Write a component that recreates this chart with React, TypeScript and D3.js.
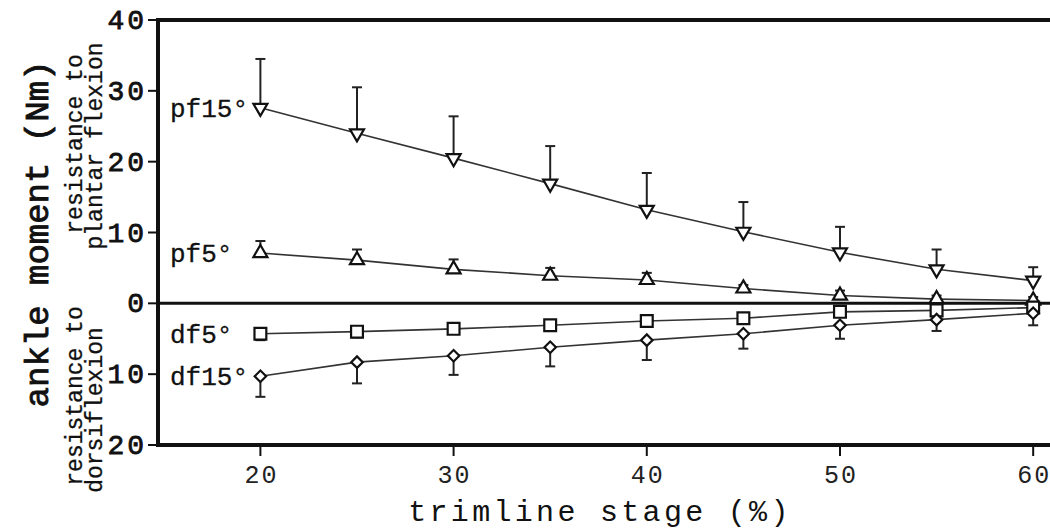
import * as d3 from 'd3'

const stages = [20, 25, 30, 35, 40, 45, 50, 55, 60]
const pf15 = [27.6, 24.0, 20.5, 16.9, 13.2, 10.1, 7.2, 4.8, 3.2]
const pf15Err = [34.5, 30.5, 26.4, 22.2, 18.4, 14.3, 10.8, 7.6, 5.1]
const pf5 = [7.1, 6.1, 4.8, 3.9, 3.3, 2.1, 1.1, 0.6, 0.4]
const pf5Err = [8.8, 7.6, 6.2, 5.0, 4.3, 2.6, 1.8, 1.1, 0.9]
const df5 = [-4.3, -4.0, -3.6, -3.1, -2.5, -2.1, -1.2, -1.0, -0.6]
const df5Err = [-5.2, -4.8, -4.3, -3.5, -2.9, -2.5, -1.6, -1.4, -1.0]
const df15 = [-10.3, -8.3, -7.4, -6.2, -5.2, -4.3, -3.1, -2.3, -1.4]
const df15Err = [-13.2, -11.3, -10.1, -8.9, -8.0, -6.4, -5.0, -3.9, -3.1]

const xTicks = [20, 30, 40, 50, 60]
const yTicks = [40, 30, 20, 10, 0, -10, -20]

const series = [
  { label: 'pf15°', values: pf15, err: pf15Err, symbol: d3.symbolTriangle, size: 85, rotate: 180 },
  { label: 'pf5°', values: pf5, err: pf5Err, symbol: d3.symbolTriangle, size: 85, rotate: 0 },
  { label: 'df5°', values: df5, err: df5Err, symbol: d3.symbolSquare, size: 140, rotate: 0 },
  { label: 'df15°', values: df15, err: df15Err, symbol: d3.symbolSquare, size: 66, rotate: 45 },
]

const W = 1050
const H = 532
const mono = '"Liberation Mono", "Courier New", monospace'

export default function App() {
  const x = d3.scaleLinear().domain([14.7, 61]).range([158, 1052.5])
  const y = d3.scaleLinear().domain([-20, 40]).range([445, 20])
  const line = d3.line<number>().x((_, i) => x(stages[i])).y((d) => y(d))

  return (
    <svg
      width={W}
      height={H}
      style={{ position: 'absolute', left: 0, top: 0, background: '#fff' }}
    >
      {/* axis titles */}
      <text
        transform={`translate(48,234) rotate(-90)`}
        textAnchor="middle"
        fontFamily={mono}
        fontSize={34}
        fill="#111"
        stroke="#111"
        strokeWidth={0.9}
      >
        ankle moment (Nm)
      </text>
      <g fontFamily={mono} fontSize={23} fill="#111" textAnchor="middle" stroke="#111" strokeWidth={0.3}>
        <text transform="translate(82,144) rotate(-90)">resistance to</text>
        <text transform="translate(102,146) rotate(-90)">plantar flexion</text>
        <text transform="translate(82,396) rotate(-90)">resistance to</text>
        <text transform="translate(102,410) rotate(-90)">dorsiflexion</text>
      </g>
      <text
        x={600}
        y={521}
        textAnchor="middle"
        fontFamily={mono}
        fontSize={30}
        letterSpacing={3.3}
        fill="#111"
      >
        trimline stage (%)
      </text>

      {/* y ticks */}
      {yTicks.map((t) => (
        <g key={t}>
          <line x1={148} x2={158} y1={y(t)} y2={y(t)} stroke="#111" strokeWidth={2} />
          <text
            x={147}
            y={y(t) + 9}
            textAnchor="end"
            fontFamily={mono}
            fontSize={28}
            letterSpacing={3}
            fill="#111"
            stroke="#111"
            strokeWidth={0.8}
          >
            {Math.abs(t)}
          </text>
        </g>
      ))}

      {/* x ticks */}
      {xTicks.map((t) => (
        <g key={t}>
          <line x1={x(t)} x2={x(t)} y1={445} y2={456} stroke="#111" strokeWidth={2} />
          <text
            x={x(t) + 1}
            y={483}
            textAnchor="middle"
            fontFamily={mono}
            fontSize={25}
            letterSpacing={2}
            fill="#222"
          >
            {t}
          </text>
        </g>
      ))}

      {/* frame */}
      <line x1={158} x2={W} y1={y(40)} y2={y(40)} stroke="#111" strokeWidth={4} />
      <line x1={158} x2={W} y1={y(-20)} y2={y(-20)} stroke="#111" strokeWidth={4} />
      <line x1={158} x2={W} y1={y(0)} y2={y(0)} stroke="#111" strokeWidth={3} />
      <line x1={158} x2={158} y1={y(40) - 2} y2={y(-20) + 2} stroke="#111" strokeWidth={4} />

      {/* series */}
      {series.map((s) => (
        <g key={s.label}>
          <path d={line(s.values) ?? ''} fill="none" stroke="#333" strokeWidth={1.6} />
          {s.values.map((v, i) => (
            <g key={i}>
              <line
                x1={x(stages[i])}
                x2={x(stages[i])}
                y1={y(v)}
                y2={y(s.err[i])}
                stroke="#222"
                strokeWidth={2}
              />
              <line
                x1={x(stages[i]) - 5}
                x2={x(stages[i]) + 5}
                y1={y(s.err[i])}
                y2={y(s.err[i])}
                stroke="#222"
                strokeWidth={2}
              />
            </g>
          ))}
          {s.values.map((v, i) => (
            <path
              key={i}
              d={d3.symbol().type(s.symbol).size(s.size)() ?? ''}
              transform={`translate(${x(stages[i])},${y(v)}) rotate(${s.rotate})`}
              fill="#fff"
              stroke="#111"
              strokeWidth={2.2}
            />
          ))}
          <text
            x={170}
            y={y(s.values[0]) + 9}
            fontFamily={mono}
            fontSize={26}
            fill="#111"
            stroke="#111"
            strokeWidth={0.3}
          >
            {s.label}
          </text>
        </g>
      ))}
    </svg>
  )
}
